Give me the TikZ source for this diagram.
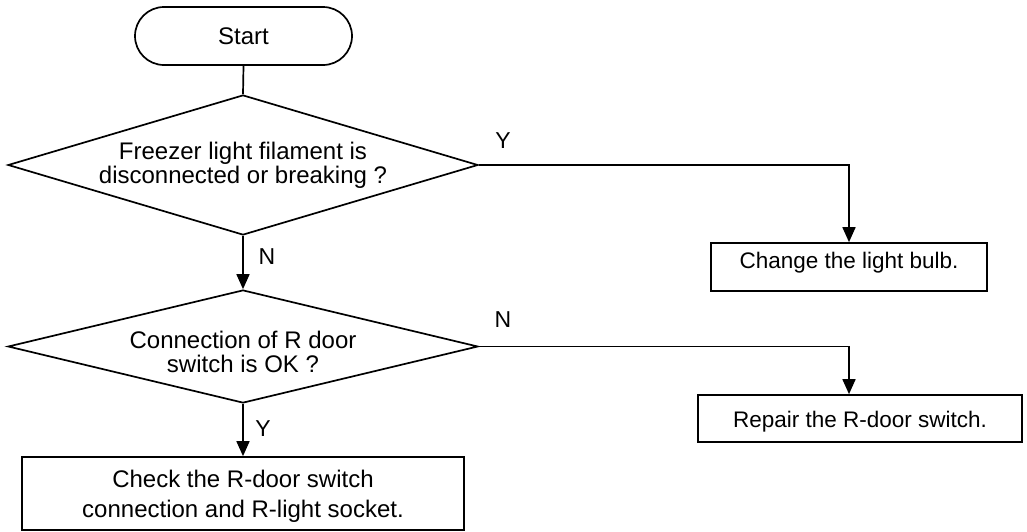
\documentclass[tikz,border=0pt]{standalone}
\usepackage{fontspec}
\setmainfont{Liberation Sans}
\usetikzlibrary{shapes.geometric,arrows.meta}
\begin{document}
\begin{tikzpicture}[x=1pt,y=-1pt,
  line width=1.7pt,
  every node/.style={font=\fontsize{24}{24.3}\selectfont, inner sep=0pt},
  term/.style={draw, rectangle, rounded corners=29pt, minimum width=217pt, minimum height=58pt},
  dia/.style={draw, diamond, minimum width=470pt},
  qtext/.style={align=center},
  box/.style={draw, rectangle},
  rfont/.style={font=\fontsize{22.5}{24}\selectfont},
  lbl/.style={font=\fontsize{23}{24}\selectfont},
  arr/.style={-{Triangle[width=13pt,length=15pt]}}
]
\useasboundingbox (0,0) rectangle (1027,531);

\node[term] (start) at (243.5,36) {Start};

\node[dia, minimum height=140pt] (d1) at (243,165) {};
\node[qtext] (q1) at (243,165) {Freezer light filament is\\disconnected or breaking ?};

\node[dia, minimum height=113pt] (d2) at (243,346.5) {};
\node[qtext] (q2) at (243,352) {Connection of R door\\switch is OK ?};

\node[box, rfont, minimum width=276pt, minimum height=48pt, text height=17pt, text depth=14.5pt] (b1) at (849,267) {Change the light bulb.};
\node[box, rfont, minimum width=324pt, minimum height=47pt, text height=17.4pt, text depth=0pt] (b2) at (860,418.5) {Repair the R-door switch.};
\node[box, minimum width=442pt, minimum height=73pt, align=center, font=\fontsize{24}{29.7}\selectfont] (b3) at (243,493.5) {\rule{0pt}{23.5pt}Check the R-door switch\\connection and R-light socket.};

\draw (start.south) -- (d1.north);
\draw[arr] (d1.east) -| (b1.north);
\draw[arr] (d1.south) -- (d2.north);
\draw[arr] (d2.east) -| ([xshift=-11pt]b2.north);
\draw[arr] (d2.south) -- (b3.north);

\node[lbl] (ly1) at (503,141) {Y};
\node[lbl] (ln1) at (267,257) {N};
\node[lbl] (ln2) at (503,320) {N};
\node[lbl] (ly2) at (263,429) {Y};
\end{tikzpicture}
\end{document}
